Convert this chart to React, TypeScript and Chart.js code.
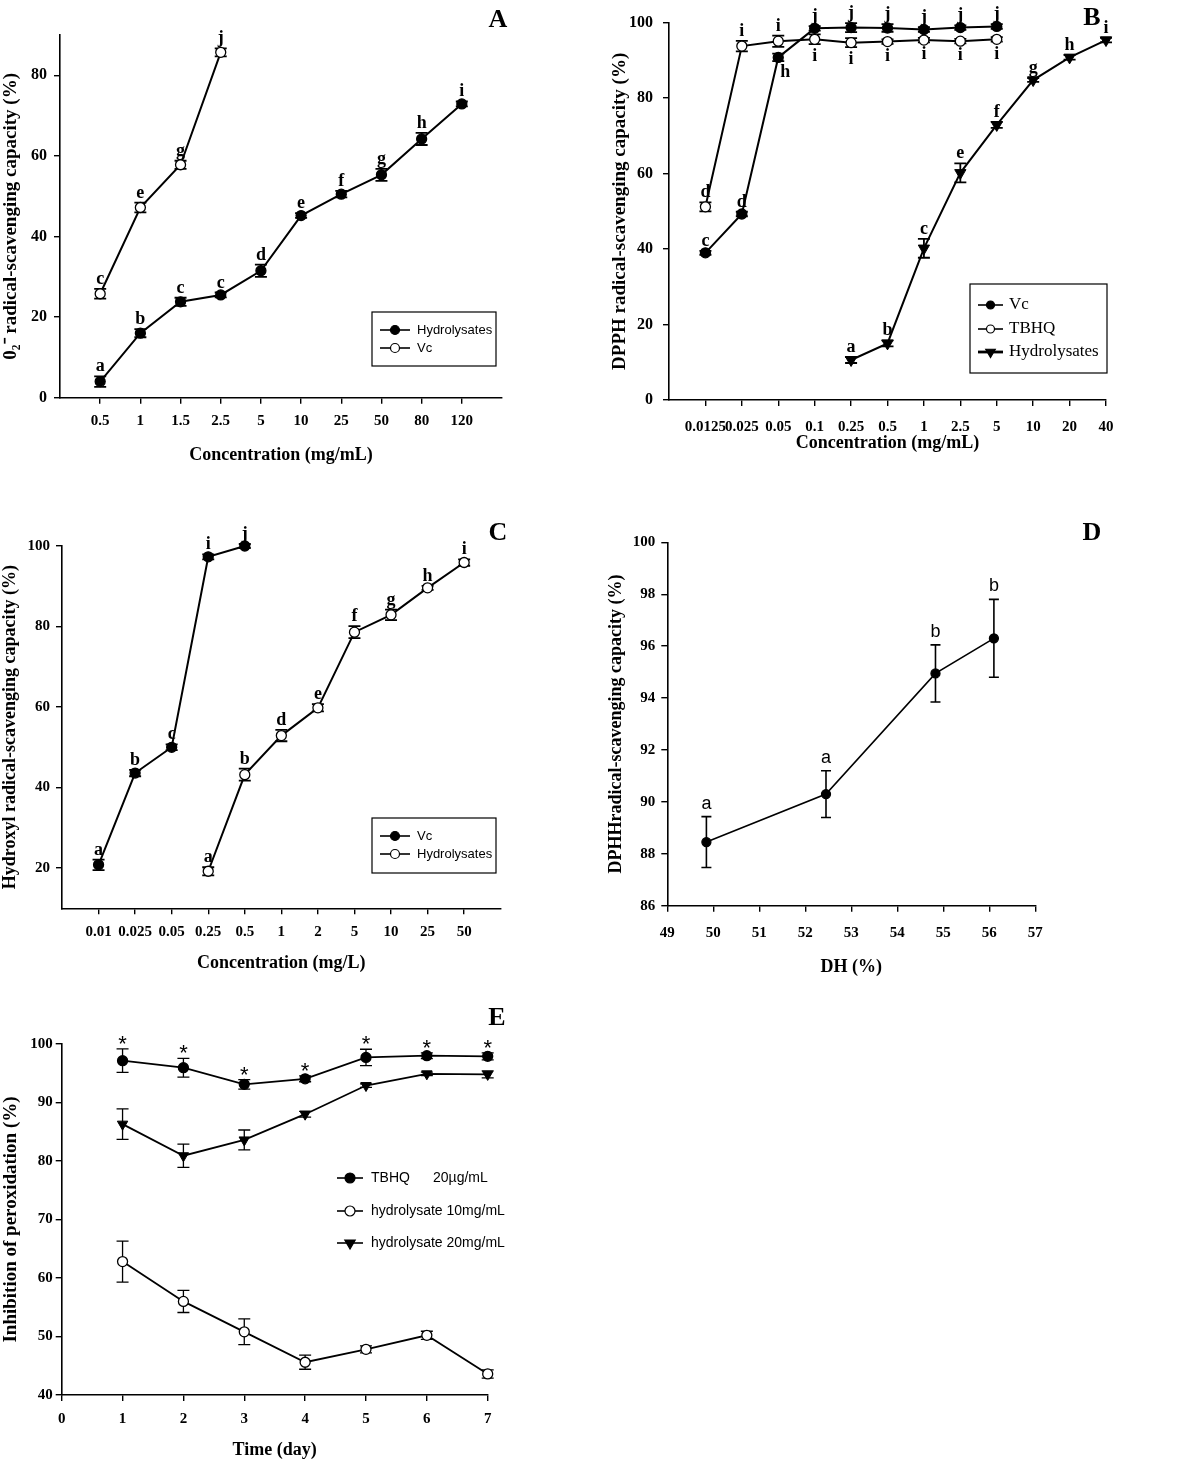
import React, { useEffect, useRef } from "react";
import { Chart, registerables } from "chart.js";
Chart.register(...registerables);

const SERIF = '"Liberation Serif", "Times New Roman", Times, serif';
const SANS = '"Liberation Sans", Arial, Helvetica, sans-serif';

// ---------- Panel A ----------
const A_TICKS = ["0.5", "1", "1.5", "2.5", "5", "10", "25", "50", "80", "120"];
const A_NAMES = ["Hydrolysates", "Vc"];
const A_HYD = [4.0, 16.0, 23.8, 25.5, 31.5, 45.2, 50.5, 55.3, 64.2, 72.9];
const A_HYD_ERR = [1.3, 1.0, 1.0, 0.6, 1.5, 0.6, 0.8, 1.5, 1.5, 0.6];
const A_HYD_LET = ["a", "b", "c", "c", "d", "e", "f", "g", "h", "i"];
const A_VC = [25.8, 47.2, 57.8, 85.7];
const A_VC_ERR = [1.2, 1.2, 1.0, 1.0];
const A_VC_LET = ["c", "e", "g", "j"];

// ---------- Panel B ----------
const B_TICKS = ["0.0125", "0.025", "0.05", "0.1", "0.25", "0.5", "1", "2.5", "5", "10", "20", "40"];
const B_NAMES = ["Vc", "TBHQ", "Hydrolysates"];
const B_VC = [39.0, 49.3, 90.8, 98.5, 98.7, 98.6, 98.2, 98.7, 99.0];
const B_VC_ERR = [0.5, 0.6, 1.0, 0.6, 1.2, 1.0, 0.6, 0.6, 0.6];
const B_VC_LET = ["c", "d", "h", "j", "j", "j", "j", "j", "j"];
const B_VC_PLACE = ["above", "above", "belowRight", "above", "above", "above", "above", "above", "above"];
const B_TBHQ = [51.2, 93.8, 95.1, 95.6, 94.7, 95.0, 95.4, 95.1, 95.6];
const B_TBHQ_ERR = [1.2, 1.4, 1.5, 1.3, 1.2, 0.6, 0.6, 0.6, 0.6];
const B_TBHQ_LET = ["d", "i", "i", "i", "i", "i", "i", "i", "i"];
const B_TBHQ_PLACE = ["above", "above", "above", "below", "below", "below", "below", "below", "below"];
const B_HYD = [null, null, null, null, 10.6, 15.0, 40.2, 60.2, 72.9, 84.8, 90.8, 95.4];
const B_HYD_ERR = [null, null, null, null, 0.8, 0.8, 2.5, 2.5, 0.8, 0.5, 0.6, 0.6];
const B_HYD_LET = [null, null, null, null, "a", "b", "c", "e", "f", "g", "h", "i"];

// ---------- Panel C ----------
const C_TICKS = ["0.01", "0.025", "0.05", "0.25", "0.5", "1", "2", "5", "10", "25", "50"];
const C_NAMES = ["Vc", "Hydrolysates"];
const C_VC = [20.8, 43.6, 50.0, 97.3, 100.0];
const C_VC_ERR = [1.3, 0.8, 0.7, 0.6, 0.5];
const C_VC_LET = ["a", "b", "c", "i", "j"];
const C_HYD = [null, null, null, 19.2, 43.2, 52.9, 59.8, 78.6, 82.9, 89.6, 95.9];
const C_HYD_ERR = [null, null, null, 1.0, 1.5, 1.4, 0.9, 1.5, 1.3, 0.5, 0.8];
const C_HYD_LET = [null, null, null, "a", "b", "d", "e", "f", "g", "h", "i"];

// ---------- Panel D ----------
const D_DH = [49.85, 52.45, 54.83, 56.1];
const D_VAL = [88.45, 90.3, 94.95, 96.3];
const D_ERR = [0.98, 0.9, 1.1, 1.5];
const D_LET = ["a", "a", "b", "b"];
const D_XTICKS = [49, 50, 51, 52, 53, 54, 55, 56, 57];
const D_YTICKS = [86, 88, 90, 92, 94, 96, 98, 100];

// ---------- Panel E ----------
const E_DAYS = [1, 2, 3, 4, 5, 6, 7];
const E_NAMES = ["TBHQ", "hydrolysate 10mg/mL", "hydrolysate 20mg/mL"];
const E_TBHQ_DOSE = "20\u00b5g/mL";
const E_TBHQ = [97.15, 95.95, 93.1, 94.05, 97.7, 98.0, 97.9];
const E_TBHQ_ERR = [2.0, 1.6, 0.8, 0.5, 1.4, 0.5, 0.6];
const E_STARS = ["*", "*", "*", "*", "*", "*", "*"];
const E_H10 = [62.8, 56.0, 50.8, 45.6, 47.8, 50.2, 43.6];
const E_H10_ERR = [3.5, 1.9, 2.2, 1.2, 0.6, 0.7, 0.7];
const E_H20 = [86.3, 80.9, 83.6, 88.0, 92.9, 94.9, 94.8];
const E_H20_ERR = [2.6, 2.0, 1.7, 0.5, 0.3, 0.3, 0.6];
const E_XTICKS = [0, 1, 2, 3, 4, 5, 6, 7];
const E_YTICKS = [40, 50, 60, 70, 80, 90, 100];

const range = (a: number, b: number, s = 1) => {
  const r: number[] = [];
  for (let v = a; v <= b + 1e-9; v += s) r.push(v);
  return r;
};

function drawMarker(ctx: CanvasRenderingContext2D, m: string, x: number, y: number, r: number) {
  ctx.save();
  ctx.strokeStyle = "#000";
  ctx.lineWidth = 1.2;
  ctx.beginPath();
  if (m === "tri") {
    const h = r;
    ctx.moveTo(x, y + h);
    ctx.lineTo(x - h * 0.866, y - h * 0.5);
    ctx.lineTo(x + h * 0.866, y - h * 0.5);
    ctx.closePath();
    ctx.fillStyle = "#000";
  } else {
    ctx.arc(x, y, r, 0, Math.PI * 2);
    ctx.fillStyle = m === "open" ? "#fff" : "#000";
  }
  ctx.fill();
  ctx.stroke();
  ctx.restore();
}

function markerProps(m: string, r: number) {
  if (m === "tri")
    return { pointStyle: "triangle", pointRotation: 180, pointRadius: r, pointBackgroundColor: "#000", pointBorderColor: "#000", pointBorderWidth: 1 };
  return { pointStyle: "circle", pointRadius: r, pointBackgroundColor: m === "open" ? "#fff" : "#000", pointBorderColor: "#000", pointBorderWidth: 1.3 };
}

function axis(o: any) {
  return {
    type: "linear",
    bounds: "data",
    min: o.min,
    max: o.max,
    afterBuildTicks: (s: any) => {
      s.ticks = o.ticks.map((v: number) => ({ value: v }));
    },
    afterFit: (s: any) => {
      if (o.horizontal) s.height = o.size;
      else s.width = o.size;
    },
    ticks: {
      autoSkip: false,
      maxRotation: 0,
      minRotation: 0,
      padding: o.tickPad,
      color: "#000",
      font: { family: SERIF, weight: "bold", size: o.tickSize },
      callback: (v: any) => o.label(Number(v)),
    },
    grid: { drawOnChartArea: false, drawTicks: true, tickLength: 6, color: "#000", lineWidth: 1.4 },
    border: { display: true, color: "#000", width: 1.6 },
    title: {
      display: true,
      text: o.title,
      color: "#000",
      font: { family: SERIF, weight: "bold", size: o.titleSize },
      padding: o.titlePad,
    },
  };
}

function buildChart(canvas: HTMLCanvasElement, p: any) {
  const datasets = p.series.map((s: any) => {
    const pts: any[] = [];
    const errs: number[] = [];
    const lets: any[] = [];
    const places: string[] = [];
    s.values.forEach((v: any, i: number) => {
      if (v == null) return;
      pts.push({ x: s.xs ? s.xs[i] : i, y: v });
      errs.push(s.errs[i] ?? 0);
      lets.push(s.letters ? s.letters[i] : null);
      places.push(s.place ? s.place[i] : "above");
    });
    return {
      data: pts,
      errs,
      lets,
      places,
      borderColor: "#000",
      borderWidth: p.lineWidth,
      tension: 0,
      fill: false,
      clip: false,
      ...markerProps(s.marker, s.r),
    };
  });

  const decor = {
    id: "decor",
    beforeDatasetsDraw(chart: any) {
      const ctx = chart.ctx;
      const ys = chart.scales.y;
      ctx.save();
      ctx.strokeStyle = "#000";
      ctx.lineWidth = p.errWidth;
      chart.data.datasets.forEach((ds: any, di: number) => {
        const meta = chart.getDatasetMeta(di);
        meta.data.forEach((el: any, j: number) => {
          const e = ds.errs[j];
          if (!e) return;
          const v = ds.data[j].y;
          const yt = ys.getPixelForValue(v + e);
          const yb = ys.getPixelForValue(v - e);
          const x = el.x;
          const c = p.cap;
          ctx.beginPath();
          ctx.moveTo(x, yt);
          ctx.lineTo(x, yb);
          ctx.moveTo(x - c, yt);
          ctx.lineTo(x + c, yt);
          ctx.moveTo(x - c, yb);
          ctx.lineTo(x + c, yb);
          ctx.stroke();
        });
      });
      ctx.restore();
    },
    afterDraw(chart: any) {
      const ctx = chart.ctx;
      const ys = chart.scales.y;
      ctx.save();
      ctx.fillStyle = "#000";
      chart.data.datasets.forEach((ds: any, di: number) => {
        const meta = chart.getDatasetMeta(di);
        ctx.font = p.letterFont;
        ctx.textAlign = "center";
        ctx.textBaseline = "alphabetic";
        meta.data.forEach((el: any, j: number) => {
          const t = ds.lets[j];
          if (!t) return;
          const v = ds.data[j].y;
          const e = ds.errs[j] || 0;
          const pl = ds.places[j];
          if (pl === "below") {
            ctx.fillText(t, el.x, ys.getPixelForValue(v - e) + p.belowGap);
          } else if (pl === "belowRight") {
            ctx.fillText(t, el.x + 7, el.y + 20);
          } else {
            ctx.fillText(t, el.x, ys.getPixelForValue(v + e) - p.letterGap);
          }
        });
      });
      ctx.font = `bold 26px ${SERIF}`;
      ctx.textAlign = "center";
      ctx.textBaseline = "middle";
      ctx.fillText(p.panel.text, p.panel.x, p.panel.y);
      const lg = p.legend;
      if (lg.box) {
        ctx.lineWidth = 1.2;
        ctx.strokeStyle = "#000";
        ctx.strokeRect(lg.box[0], lg.box[1], lg.box[2] - lg.box[0], lg.box[3] - lg.box[1]);
      }
      lg.items.forEach((it: any, i: number) => {
        const y = lg.rows[i];
        ctx.strokeStyle = "#000";
        ctx.lineWidth = it.lw ?? 1.6;
        ctx.beginPath();
        ctx.moveTo(lg.x0, y);
        ctx.lineTo(lg.x1, y);
        ctx.stroke();
        drawMarker(ctx, it.marker, (lg.x0 + lg.x1) / 2, y, it.r);
        ctx.fillStyle = "#000";
        ctx.font = lg.font;
        ctx.textAlign = "left";
        ctx.textBaseline = "middle";
        ctx.fillText(it.text, lg.tx, y);
        if (it.extra) ctx.fillText(it.extra, lg.extraX, y);
      });
      ctx.restore();
    },
  };

  return new Chart(canvas, {
    type: "line",
    data: { datasets },
    options: {
      responsive: false,
      maintainAspectRatio: false,
      animation: false,
      devicePixelRatio: 1,
      events: [],
      layout: { padding: p.padding },
      plugins: { legend: { display: false }, tooltip: { enabled: false }, title: { display: false } },
      scales: {
        x: axis({ ...p.x, horizontal: true }),
        y: axis({ ...p.y, horizontal: false }),
      },
    } as any,
    plugins: [decor],
  } as any);
}

const PANELS: any[] = [
  {
    left: 0, top: 0, w: 590, h: 470,
    padding: { left: 0, top: 35, right: 88, bottom: 0 },
    x: { min: -1, max: 10, ticks: range(0, 9), label: (v: number) => A_TICKS[v] ?? "", size: 72.3, tickPad: 8, tickSize: 15, title: "Concentration (mg/mL)", titleSize: 18, titlePad: { top: 0, bottom: 4 } },
    y: { min: 0, max: 90, ticks: range(0, 80, 20), label: (v: number) => String(v), size: 60, tickPad: 7, tickSize: 16, title: "0\u2082\u207b radical-scavenging capacity (%)", titleSize: 19, titlePad: { top: 0, bottom: 0 } },
    series: [
      { values: A_HYD, errs: A_HYD_ERR, letters: A_HYD_LET, marker: "filled", r: 5 },
      { values: A_VC, errs: A_VC_ERR, letters: A_VC_LET, marker: "open", r: 5 },
    ],
    lineWidth: 2, errWidth: 1.8, cap: 6, letterFont: `bold 18px ${SERIF}`, letterGap: 5, belowGap: 17,
    panel: { text: "A", x: 498, y: 20 },
    legend: {
      box: [372, 312, 496, 366], rows: [330, 348], x0: 380, x1: 410, tx: 417, font: `13px ${SANS}`,
      items: [
        { text: A_NAMES[0], marker: "filled", r: 4.5 },
        { text: A_NAMES[1], marker: "open", r: 4.5 },
      ],
    },
  },
  {
    left: 590, top: 0, w: 610, h: 470,
    padding: { left: 0, top: 22.7, right: 94, bottom: 0 },
    x: { min: -1, max: 11, ticks: range(0, 11), label: (v: number) => B_TICKS[v] ?? "", size: 70, tickPad: 12, tickSize: 15, title: "Concentration (mg/mL)", titleSize: 18, titlePad: { top: 0, bottom: 16 } },
    y: { min: 0, max: 100, ticks: range(0, 100, 20), label: (v: number) => String(v), size: 79, tickPad: 10, tickSize: 16, title: "DPPH radical-scavenging capacity (%)", titleSize: 19, titlePad: { top: 18.6, bottom: 0 } },
    series: [
      { values: B_VC, errs: B_VC_ERR, letters: B_VC_LET, place: B_VC_PLACE, marker: "filled", r: 5 },
      { values: B_TBHQ, errs: B_TBHQ_ERR, letters: B_TBHQ_LET, place: B_TBHQ_PLACE, marker: "open", r: 5 },
      { values: B_HYD, errs: B_HYD_ERR, letters: B_HYD_LET, marker: "tri", r: 6.5 },
    ],
    lineWidth: 2, errWidth: 1.8, cap: 6, letterFont: `bold 18px ${SERIF}`, letterGap: 5, belowGap: 17,
    panel: { text: "B", x: 502, y: 18 },
    legend: {
      box: [380, 284, 517, 373], rows: [305, 329, 352], x0: 388, x1: 413, tx: 419, font: `17px ${SERIF}`,
      items: [
        { text: B_NAMES[0], marker: "filled", r: 4 },
        { text: B_NAMES[1], marker: "open", r: 4 },
        { text: B_NAMES[2], marker: "tri", r: 5.5, lw: 2.8 },
      ],
    },
  },
  {
    left: 0, top: 470, w: 590, h: 510,
    padding: { left: 0, top: 76, right: 89.3, bottom: 0 },
    x: { min: -1, max: 11, ticks: range(0, 10), label: (v: number) => C_TICKS[v] ?? "", size: 71.7, tickPad: 8.7, tickSize: 15, title: "Concentration (mg/L)", titleSize: 18, titlePad: { top: 0, bottom: 6 } },
    y: { min: 10, max: 100, ticks: range(20, 100, 20), label: (v: number) => String(v), size: 62, tickPad: 6, tickSize: 15, title: "Hydroxyl radical-scavenging capacity (%)", titleSize: 18, titlePad: { top: 0, bottom: 0 } },
    series: [
      { values: C_VC, errs: C_VC_ERR, letters: C_VC_LET, marker: "filled", r: 5 },
      { values: C_HYD, errs: C_HYD_ERR, letters: C_HYD_LET, marker: "open", r: 5 },
    ],
    lineWidth: 2, errWidth: 1.8, cap: 6, letterFont: `bold 18px ${SERIF}`, letterGap: 5, belowGap: 17,
    panel: { text: "C", x: 498, y: 63 },
    legend: {
      box: [372, 348, 496, 403], rows: [366, 384], x0: 380, x1: 410, tx: 417, font: `13px ${SANS}`,
      items: [
        { text: C_NAMES[0], marker: "filled", r: 4.5 },
        { text: C_NAMES[1], marker: "open", r: 4.5 },
      ],
    },
  },
  {
    left: 590, top: 470, w: 610, h: 510,
    padding: { left: 0, top: 72.3, right: 164.7, bottom: 0 },
    x: { min: 49, max: 57, ticks: D_XTICKS, label: (v: number) => String(v), size: 74.3, tickPad: 12, tickSize: 15, title: "DH (%)", titleSize: 18, titlePad: { top: 0, bottom: 2 } },
    y: { min: 86, max: 100, ticks: D_YTICKS, label: (v: number) => String(v), size: 77.3, tickPad: 6, tickSize: 15, title: "DPHHradical-scavenging capacity (%)", titleSize: 18, titlePad: { top: 16, bottom: 0 } },
    series: [{ values: D_VAL, xs: D_DH, errs: D_ERR, letters: D_LET, marker: "filled", r: 4.5 }],
    lineWidth: 1.6, errWidth: 1.6, cap: 5, letterFont: `18px ${SANS}`, letterGap: 8, belowGap: 17,
    panel: { text: "D", x: 502, y: 63 },
    legend: { box: null, rows: [], items: [] },
  },
  {
    left: 0, top: 970, w: 590, h: 491,
    padding: { left: 0, top: 74, right: 102.3, bottom: 0 },
    x: { min: 0, max: 7, ticks: E_XTICKS, label: (v: number) => String(v), size: 66, tickPad: 9, tickSize: 15, title: "Time (day)", titleSize: 18, titlePad: { top: 0, bottom: 0 } },
    y: { min: 40, max: 100, ticks: E_YTICKS, label: (v: number) => String(v), size: 61.7, tickPad: 3, tickSize: 15, title: "Inhibition of peroxidation (%)", titleSize: 19, titlePad: { top: 0, bottom: 0 } },
    series: [
      { values: E_TBHQ, xs: E_DAYS, errs: E_TBHQ_ERR, letters: E_STARS, marker: "filled", r: 5 },
      { values: E_H10, xs: E_DAYS, errs: E_H10_ERR, marker: "open", r: 5 },
      { values: E_H20, xs: E_DAYS, errs: E_H20_ERR, marker: "tri", r: 6 },
    ],
    lineWidth: 1.8, errWidth: 1.3, cap: 6, letterFont: `22px ${SANS}`, letterGap: -2, belowGap: 17,
    panel: { text: "E", x: 497, y: 48 },
    legend: {
      box: null, rows: [208, 241, 273], x0: 337, x1: 363, tx: 371, extraX: 433, font: `14px ${SANS}`,
      items: [
        { text: E_NAMES[0], extra: E_TBHQ_DOSE, marker: "filled", r: 5 },
        { text: E_NAMES[1], marker: "open", r: 5 },
        { text: E_NAMES[2], marker: "tri", r: 6 },
      ],
    },
  },
];

function Panel({ def }: { def: any }) {
  const ref = useRef<HTMLCanvasElement>(null);
  useEffect(() => {
    const chart = buildChart(ref.current as HTMLCanvasElement, def);
    return () => chart.destroy();
  }, [def]);
  return (
    <canvas
      ref={ref}
      width={def.w}
      height={def.h}
      style={{ position: "absolute", left: def.left, top: def.top, width: def.w, height: def.h }}
    />
  );
}

export default function App() {
  return (
    <div style={{ position: "absolute", left: 0, top: 0, width: 1200, height: 1461, background: "#fff", overflow: "hidden" }}>
      {PANELS.map((d, i) => (
        <Panel key={i} def={d} />
      ))}
    </div>
  );
}
